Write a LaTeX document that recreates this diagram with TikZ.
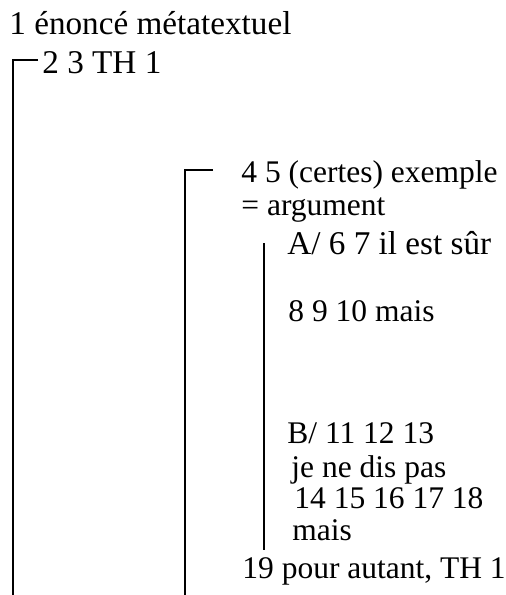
\documentclass[tikz,border=0pt]{standalone}
\usepackage{fontspec}
\setmainfont{Liberation Serif}
\usepackage{tikz}
\usetikzlibrary{positioning, calc}
\tikzset{
    txt/.style={anchor=base west, inner sep=0pt, font=\fontsize{15.75}{18}\selectfont},
    big_txt/.style={txt, font=\fontsize{16.6}{19}\selectfont},
    bracket_line/.style={line width=0.9pt, black}
}

\begin{document}
\begin{tikzpicture}[x=0.5pt, y=-0.5pt]
    \useasboundingbox (0,0) rectangle (506,595);
    % Level 1
    \node[big_txt] (meta) at (9,34) {1 énoncé métatextuel};
    \node[big_txt] (th) at (42,73) {2 3 TH 1};
    % Level 2
    \node[txt] (exemple) at (241,182) {4 5 (certes) exemple};
    \node[txt] (argument) at (241,215) {= argument};
    % Level 3: A and B
    \node[big_txt] (partA) at (287,254) {A/ 6 7 il est sûr};
    \node[txt] (mais_a) at (288,321) {8 9 10 mais};
    \node[txt] (partB) at (287,443) {B/ 11 12 13};
    \node[txt] (nedis) at (291,477) {je ne dis pas};
    \node[txt] (suite) at (294,508) {14 15 16 17 18};
    \node[txt] (mais_b) at (292,540) {mais};
    \node[txt] (conclusion) at (242,578) {19 pour autant, TH 1};
    % Brackets
    \coordinate (top_a) at (13,60);
    \coordinate (end_a) at (13,595);
    \draw[bracket_line] ([xshift=-2pt]th.west |- top_a) -- (top_a) -- (end_a);
    \coordinate (tick_b) at (213,170);
    \coordinate (top_b) at (185,170);
    \coordinate (end_b) at (185,595);
    \draw[bracket_line] (tick_b) -- (top_b) -- (end_b);
    \coordinate (top_c) at (264,243);
    \coordinate (end_c) at (264,550);
    \draw[bracket_line] (top_c) -- (end_c);
\end{tikzpicture}
\end{document}
